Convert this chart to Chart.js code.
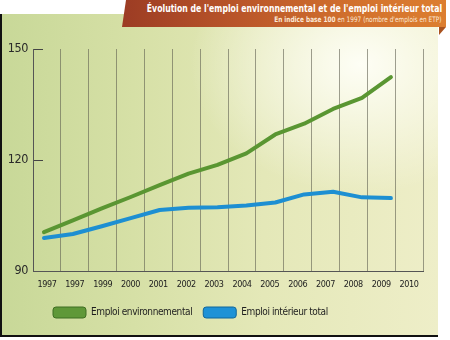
<!DOCTYPE html>
<html>
<head>
<meta charset="utf-8">
<script src="https://cdn.jsdelivr.net/npm/chart.js@4.4.0/dist/chart.umd.min.js"></script>
<style>
  body { margin: 0; width: 450px; height: 340px; position: relative; overflow: hidden; background: #fff;
         font-family: "Liberation Sans Narrow", "DejaVu Sans Condensed", sans-serif; }
  #panel { position: absolute; left: 0; top: 14px; width: 436px; height: 321px;
           border-left: 2px solid #111; border-bottom: 2px solid #111;
           background:
             radial-gradient(ellipse 170px 130px at 358px 50px, rgba(255,255,248,0.95), rgba(255,255,240,0) 100%),
             linear-gradient(to right, #c8d898 0%, #d6e0a6 30%, #e4e8b8 60%, #eeeec8 100%); }
  #banner { position: absolute; left: 122px; top: 0; width: 324px; height: 27px;
            background: linear-gradient(to right, #9c3c24 0%, #b9552a 35%, #d4732d 75%, #dc7e30 100%);
            clip-path: polygon(4px 0, 100% 0, 100% 100%, 0 100%); color: #fff; }
  #banner .t { position: absolute; right: 4px; top: 2px; font-weight: bold; font-size: 10.5px; white-space: nowrap;
               transform: scaleX(0.82); transform-origin: right center; }
  #banner .s { position: absolute; right: 4px; top: 15px; font-size: 7.5px; white-space: nowrap; color: #fbe9d8;
               transform: scaleX(0.86); transform-origin: right center; }
  #fold { position: absolute; left: 439px; top: 27px; width: 7px; height: 8px; background: #a9521f;
          clip-path: polygon(0 0, 100% 0, 0 100%); }
  #chart { position: absolute; left: 0; top: 0; }
</style>
</head>
<body>
<div id="panel"></div>
<div id="banner">
  <div class="t">Évolution de l'emploi environnemental et de l'emploi intérieur total</div>
  <div class="s"><b>En indice base 100</b> en 1997 (nombre d'emplois en ETP)</div>
</div>
<div id="fold"></div>
<canvas id="chart" width="450" height="340"></canvas>
<script>
"use strict";

// ── data ───────────────────────────────────────────────────────────────────────
const years = [1997, 1998, 1999, 2000, 2001, 2002, 2003, 2004, 2005, 2006, 2007, 2008, 2009];
const xLabels = ["1997", "1997", "1999", "2000", "2001", "2002", "2003", "2004",
                 "2005", "2006", "2007", "2008", "2009", "2010"];
const envValues = [100.5, 103.7, 106.9, 110.0, 113.2, 116.3, 118.7, 121.8, 126.9, 129.8, 133.8, 136.8, 142.4];
const totalValues = [98.9, 100.0, 102.1, 104.3, 106.5, 107.1, 107.2, 107.7, 108.5, 110.7, 111.4, 109.9, 109.7];
const yTicks = [90, 120, 150];

const FONT = "'Liberation Sans Narrow', 'DejaVu Sans Condensed', sans-serif";
const LEGEND_SHIFT = 9;
const toPoints = vals => years.map((y, i) => ({ x: y, y: vals[i] }));

// tighter letter spacing so the condensed fallback font fits like the original,
// and nudge the legend row to where the original puts it
const tweaks = {
  id: "tweaks",
  beforeLayout: chart => { chart.ctx.letterSpacing = "-0.4px"; },
  afterLayout: chart => {
    chart.legend.left += LEGEND_SHIFT;
    chart.legend.right += LEGEND_SHIFT;
  },
  beforeDraw: chart => { chart.ctx.letterSpacing = "-0.4px"; },
};

// ── chart ──────────────────────────────────────────────────────────────────────
new Chart(document.getElementById("chart"), {
  type: "line",
  plugins: [tweaks],
  data: {
    labels: xLabels,
    datasets: [
      {
        label: "Emploi environnemental", data: toPoints(envValues), xAxisID: "xd",
        borderColor: "#5a9632", backgroundColor: "#5a9632", borderWidth: 4,
        legendFill: "#5f9838", legendEdge: "#3f6e22",
      },
      {
        label: "Emploi intérieur total", data: toPoints(totalValues), xAxisID: "xd",
        borderColor: "#1d8fd2", backgroundColor: "#1d8fd2", borderWidth: 4,
        legendFill: "#1e92d6", legendEdge: "#11669a",
      },
    ],
  },
  options: {
    responsive: false,
    animation: false,
    devicePixelRatio: 1,
    layout: { padding: { top: 49, left: 0, right: 27, bottom: 12 } },
    elements: {
      point: { radius: 0 },
      line: { tension: 0, borderCapStyle: "round", borderJoinStyle: "round" },
    },
    plugins: {
      tooltip: { enabled: false },
      legend: {
        position: "bottom", align: "start", fullSize: false,
        labels: {
          boxWidth: 33, boxHeight: 11, padding: 11, color: "#1e1e1e",
          font: { family: FONT, size: 10 },
          useBorderRadius: true, borderRadius: 3,
          generateLabels: chart => chart.data.datasets.map((ds, i) => ({
            text: ds.label, fillStyle: ds.legendFill, strokeStyle: ds.legendEdge,
            lineWidth: 1, borderRadius: 3, datasetIndex: i, hidden: false, fontColor: "#1e1e1e",
          })),
        },
      },
    },
    scales: {
      x: {
        type: "category",
        offset: true,
        grid: { offset: true, drawTicks: false, color: "rgba(95,95,80,0.6)", lineWidth: 1 },
        border: { display: true, color: "#555", width: 1 },
        ticks: { color: "#222", padding: 8, font: { family: FONT, size: 9 }, autoSkip: false, maxRotation: 0 },
        afterFit: s => { s.height = 25; },
      },
      xd: { type: "linear", display: false, min: 1996.62, max: 2010.11 },
      y: {
        min: 90, max: 150,
        afterBuildTicks: s => { s.ticks = yTicks.map(v => ({ value: v })); },
        grid: { drawOnChartArea: false, drawTicks: true, tickLength: -10, color: "#444", lineWidth: 1 },
        border: { display: true, color: "#555", width: 1 },
        ticks: { color: "#2a2a2a", padding: 15, font: { family: FONT, size: 12.5 } },
        afterFit: s => { s.width = 33; },
      },
    },
  },
});
</script>
</body>
</html>
